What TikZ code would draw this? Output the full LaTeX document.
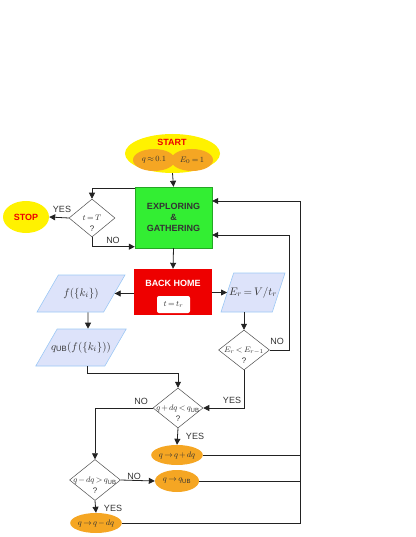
\documentclass[tikz,border=0pt]{standalone}
\usepackage{fontspec}
\setmainfont{Liberation Sans}
\usetikzlibrary{shapes.geometric,arrows.meta}
\definecolor{startyellow}{HTML}{FFF200}
\definecolor{startorange}{HTML}{F5A623}
\definecolor{boxgreen}{HTML}{33EE33}
\definecolor{boxred}{HTML}{EE0000}
\definecolor{parafill}{HTML}{DDE3FA}
\definecolor{paraline}{HTML}{9CC8F5}
\definecolor{textgray}{HTML}{333333}
\definecolor{linegray}{HTML}{222222}
\thickmuskip=3mu
\medmuskip=2mu
\begin{document}
\begin{tikzpicture}[x=1pt,y=-1pt]
	\tikzstyle{every node}+=[inner sep=0pt, text=textgray, font=\fontsize{9}{11}\selectfont]
	\tikzstyle{flow}=[draw=linegray, line width=0.8pt, -{Triangle[length=6pt,width=6pt]}]
	\tikzstyle{wire}=[draw=linegray, line width=0.8pt]
	\tikzstyle{test}=[diamond, draw=linegray!80, fill=white, line width=0.5pt]
	\tikzstyle{testtext}=[align=center, yshift=-5.5pt, font=\fontsize{8}{11}\selectfont]
	\tikzstyle{inout}=[trapezium, trapezium stretches body, draw=paraline, fill=parafill, line width=0.6pt, text height=8pt, text depth=3pt, inner ysep=13pt, inner xsep=-6pt, font=\fontsize{11}{13}\selectfont]
	\tikzstyle{update}=[ellipse, fill=startorange, minimum width=44pt, minimum height=20pt, font=\fontsize{8}{9}\selectfont]
	\tikzstyle{title}=[font=\fontsize{9}{11}\selectfont\bfseries]
	\useasboundingbox (0,0) rectangle (415,537);
	\node[ellipse, fill=startyellow, minimum width=95pt, minimum height=39pt] (start) at (172.5,153.5) {};
	\node[update, minimum width=42pt, minimum height=22pt] (qinit) at (154,160) {$q\approx0.1$};
	\node[update, minimum width=42pt, minimum height=22pt] (einit) at (192,160) {$E_0=1$};
	\node[title, text=boxred] (starttext) at (172,142) {START};
	\node[rectangle, fill=boxgreen, draw=boxgreen!70!black, line width=0.4pt, minimum width=77pt, minimum height=61pt, align=center, title] (explore) at (173.5,217.5) {EXPLORING\\\&\\GATHERING};
	\node[test, minimum width=46pt, minimum height=38pt, label={[testtext]center:{$t=T$\\?}}] (timeup) at (92,218) {};
	\node[ellipse, fill=startyellow, minimum width=46pt, minimum height=32pt, title, text=boxred] (stop) at (26,217) {STOP};
	\node[rectangle, fill=boxred, minimum width=78pt, minimum height=46pt] (home) at (173,292) {};
	\node[title, text=white] (hometext) at (173,283) {BACK HOME};
	\node[rectangle, rounded corners=2pt, fill=white, minimum width=33pt, minimum height=17pt, font=\fontsize{8}{9}\selectfont] (rtime) at (173.5,304.5) {$t=t_r$};
	\node[inout, trapezium left angle=60, trapezium right angle=120, minimum width=88pt] (cluster) at (81,293.5) {$f(\{k_i\})$};
	\node[inout, trapezium left angle=60, trapezium right angle=120, minimum width=88pt] (bound) at (81,347.5) {$q_{\mathrm{UB}}(f(\{k_i\}))$};
	\node[inout, trapezium left angle=72, trapezium right angle=108, minimum width=64pt, inner ysep=14pt] (rate) at (253,292.5) {$E_r=V/t_r$};
	\node[test, minimum width=51pt, minimum height=40pt, label={[testtext]center:{$E_r<E_{r-1}$\\?}}] (better) at (244,350) {};
	\node[test, minimum width=50pt, minimum height=40pt, label={[testtext]center:{$q+dq<q_{\mathrm{UB}}$\\?}}] (raise) at (178,408) {};
	\node[test, minimum width=51pt, minimum height=41pt, label={[testtext]center:{$q-dq>q_{\mathrm{UB}}$\\?}}] (lower) at (95,480) {};
	\node[update] (qup) at (177,455) {$q\to q+dq$};
	\node[update, minimum height=22pt] (qub) at (177,481) {$q\to q_{\mathrm{UB}}$};
	\node[update] (qdown) at (96,523) {$q\to q-dq$};
	\coordinate (noturn) at (289,235);
	\coordinate (rettop) at (300,201);
	\coordinate (join) at (178,373);
	\draw[flow] (start.south) -- (explore.north);
	\draw[flow] ([yshift=-2pt]explore.north west) -| (timeup.north);
	\draw[flow] (timeup.west) -- (stop.east);
	\draw[flow] (timeup.south) |- ([yshift=1.5pt]explore.south west);
	\draw[flow] (explore.south) -- (home.north);
	\draw[flow] (home.west |- cluster.east) -- (cluster.east);
	\draw[flow] (home.east |- rate.west) -- (rate.west);
	\draw[flow] ([xshift=7pt]cluster.south) -- ([xshift=7pt]bound.north);
	\draw[flow] (rate.south -| better.north) -- (better.north);
	\draw[flow] (better.east) -| (noturn) -- (noturn -| explore.east);
	\draw[flow] (better.south) |- (raise.east);
	\draw[flow] ([xshift=6pt]bound.south) |- (join) -- (raise.north);
	\draw[flow] (raise.south) -- (qup.north);
	\draw[flow] (raise.west) -| (lower.north);
	\draw[flow] (lower.east) -- (qub.west);
	\draw[flow] (lower.south) -- (qdown.north);
	\draw[wire] (qup.east) -- (qup.east -| rettop);
	\draw[wire] (qub.east) -- (qub.east -| rettop);
	\draw[flow] (qdown.east) -| (rettop) -- (rettop -| explore.east);
	\node (yesstop) at (62,209) {YES};
	\node (notime) at (113,240) {NO};
	\node (nobetter) at (277,341) {NO};
	\node (yesbetter) at (232,400) {YES};
	\node (noraise) at (141,401) {NO};
	\node (yesraise) at (195,436) {YES};
	\node (nolower) at (134,476) {NO};
	\node (yeslower) at (113,508) {YES};
\end{tikzpicture}
\end{document}
